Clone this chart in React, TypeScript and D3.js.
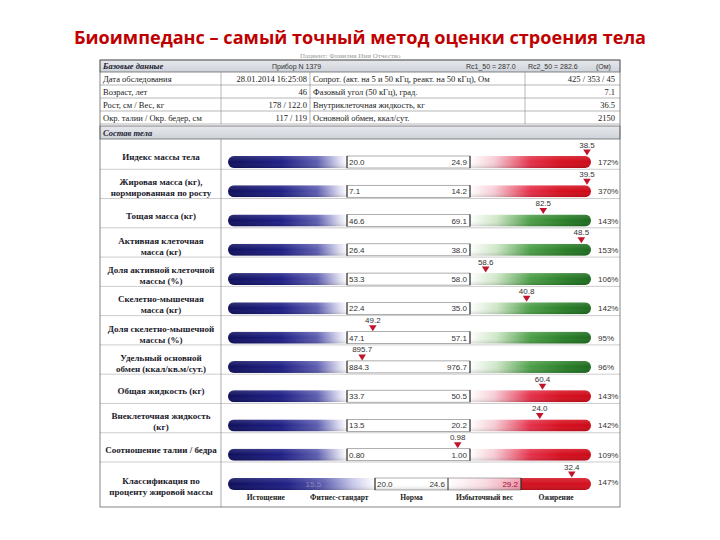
import * as d3 from 'd3';

const rowLabels: string[][] = [
  ['Индекс массы тела'],
  ['Жировая масса (кг),', 'нормированная по росту'],
  ['Тощая масса (кг)'],
  ['Активная клеточная', 'масса (кг)'],
  ['Доля активной клеточной', 'массы (%)'],
  ['Скелетно-мышечная', 'масса (кг)'],
  ['Доля скелетно-мышечной', 'массы (%)'],
  ['Удельный основной', 'обмен (ккал/кв.м/сут.)'],
  ['Общая жидкость (кг)'],
  ['Внеклеточная жидкость', '(кг)'],
  ['Соотношение талии / бедра'],
  ['Классификация по', 'проценту жировой массы'],
];
const normLow = [20.0, 7.1, 46.6, 26.4, 53.3, 22.4, 47.1, 884.3, 33.7, 13.5, 0.8];
const normHigh = [24.9, 14.2, 69.1, 38.0, 58.0, 35.0, 57.1, 976.7, 50.5, 20.2, 1.0];
const values = [38.5, 39.5, 82.5, 48.5, 58.6, 40.8, 49.2, 895.7, 60.4, 24.0, 0.98, 32.4];
const percents = [172, 370, 143, 153, 106, 142, 95, 96, 143, 142, 109, 147];
const excessKind = ['red', 'red', 'green', 'green', 'green', 'green', 'green', 'green', 'red', 'red', 'red', 'red'];

const fatBounds = [15.5, 20.0, 24.6, 29.2];
const fatClasses = ['Истощение', 'Фитнес-стандарт', 'Норма', 'Избыточный вес', 'Ожирение'];

const baseLabels = ['Дата обследования', 'Возраст, лет', 'Рост, см / Вес, кг', 'Окр. талии / Окр. бедер, см'];
const baseValues = ['28.01.2014 16:25:08', '46', '178 / 122.0', '117 / 119'];
const measLabels = [
  'Сопрот. (акт. на 5 и 50 кГц, реакт. на 50 кГц), Ом',
  'Фазовый угол (50 кГц), град.',
  'Внутриклеточная жидкость, кг',
  'Основной обмен, ккал/сут.',
];
const measValues = ['425 / 353 / 45', '7.1', '36.5', '2150'];

const serif = '"Liberation Serif", "DejaVu Serif", serif';
const sans = '"Liberation Sans", Arial, sans-serif';

const fmt = (v: number) => (v < 2 ? d3.format('.2f')(v) : d3.format('.1f')(v));

const L = 100;
const R = 620;
const colDiv = 221;
const barX0 = 228;
const barX1 = 591;
const barH = 12;

const rowY = d3.scaleLinear().domain([0, 11]).range([162, 484]);
const fatX = d3.scaleLinear().domain([20.0, 24.6]).range([375, 448]);

function Marker({x, label}: {x: number; label: string}) {
  return (
    <g>
      <text x={x} y={-14.5} textAnchor="middle" fontFamily={sans} fontSize={8} fill="#333">
        {label}
      </text>
      <path d={`M${x - 3.8},-12.5 L${x + 3.8},-12.5 L${x},-6.5 Z`} fill="#c0142c" />
    </g>
  );
}

function NormRow({i}: {i: number}) {
  const lo = normLow[i];
  const hi = normHigh[i];
  const w = hi - lo;
  const x = d3.scaleLinear().domain([lo - w, hi + w]).range([224, 593]).clamp(true);
  const xl = x(lo);
  const xh = x(hi);
  const mx = Math.min(x(values[i]), barX1 - 4);
  return (
    <g transform={`translate(0,${rowY(i)})`}>
      <g clipPath="url(#barClip)">
        <rect x={barX0} y={-barH / 2} width={xl - barX0} height={barH} fill="url(#gBlue)" />
        <rect x={xh} y={-barH / 2} width={barX1 - xh} height={barH} fill={`url(#g_${excessKind[i]})`} />
        <rect x={barX0} y={-barH / 2} width={barX1 - barX0} height={barH} fill="url(#gShade)" />
      </g>
      <rect x={xl} y={-barH / 2} width={xh - xl} height={barH} fill="#fff" stroke="#777" strokeWidth={0.6} />
      <line x1={xl} x2={xl} y1={-barH / 2} y2={barH / 2} stroke="#111" strokeWidth={0.9} />
      <line x1={xh} x2={xh} y1={-barH / 2} y2={barH / 2} stroke="#111" strokeWidth={0.9} />
      <text x={xl + 2} y={3} fontFamily={sans} fontSize={8} fill="#333">
        {fmt(lo)}
      </text>
      <text x={xh - 3} y={3} textAnchor="end" fontFamily={sans} fontSize={8} fill="#333">
        {fmt(hi)}
      </text>
      <Marker x={mx} label={fmt(values[i])} />
      <text x={598} y={3} fontFamily={sans} fontSize={8} fill="#333">
        {percents[i]}%
      </text>
    </g>
  );
}

function FatRow() {
  const i = 11;
  const b = fatBounds.map((v) => fatX(v));
  const edges = [barX0, ...b, barX1];
  return (
    <g transform={`translate(0,${rowY(i)})`}>
      <g clipPath="url(#barClip)">
        <rect x={barX0} y={-barH / 2} width={b[1] - barX0} height={barH} fill="url(#gBlueFat)" />
        <rect x={b[1]} y={-barH / 2} width={b[2] - b[1]} height={barH} fill="#fff" />
        <rect x={b[2]} y={-barH / 2} width={b[3] - b[2]} height={barH} fill="url(#gPink)" />
        <rect x={b[3]} y={-barH / 2} width={barX1 - b[3]} height={barH} fill="#d3101f" />
        <rect x={barX0} y={-barH / 2} width={barX1 - barX0} height={barH} fill="url(#gShade)" />
      </g>
      <rect x={b[1]} y={-barH / 2} width={b[3] - b[1]} height={barH} fill="none" stroke="#777" strokeWidth={0.6} />
      {[1, 2, 3].map((k) => (
        <line key={k} x1={b[k]} x2={b[k]} y1={-barH / 2} y2={barH / 2} stroke="#111" strokeWidth={0.9} />
      ))}
      <text x={b[0] + 2} y={3} fontFamily={sans} fontSize={8} fill="#8a86b8">
        {fmt(fatBounds[0])}
      </text>
      <text x={b[1] + 2} y={3} fontFamily={sans} fontSize={8} fill="#333">
        {fmt(fatBounds[1])}
      </text>
      <text x={b[2] - 3} y={3} textAnchor="end" fontFamily={sans} fontSize={8} fill="#333">
        {fmt(fatBounds[2])}
      </text>
      <text x={b[3] - 3} y={3} textAnchor="end" fontFamily={sans} fontSize={8} fill="#a0102a">
        {fmt(fatBounds[3])}
      </text>
      {fatClasses.map((c, k) => (
        <text
          key={c}
          x={(edges[k] + edges[k + 1]) / 2}
          y={16}
          textAnchor="middle"
          fontFamily={serif}
          fontWeight="bold"
          fontSize={7.5}
          fill="#222"
        >
          {c}
        </text>
      ))}
      <Marker x={fatX(values[i])} label={fmt(values[i])} />
      <text x={598} y={1} fontFamily={sans} fontSize={8} fill="#333">
        {percents[i]}%
      </text>
    </g>
  );
}

export default function App() {
  const headTop = 72;
  const headRow = 13;
  const bodyTop = 139;
  const rowTops = rowLabels.map((_, i) => rowY(i) - 22);

  return (
    <svg width={720} height={540} style={{position: 'absolute', left: 0, top: 0, background: '#fff'}}>
      <defs>
        <clipPath id="barClip">
          <rect x={barX0} y={-barH / 2} width={barX1 - barX0} height={barH} rx={6} />
        </clipPath>
        <linearGradient id="gBlue">
          <stop offset="0" stopColor="#0f0f5c" />
          <stop offset="0.45" stopColor="#1f1f86" />
          <stop offset="0.75" stopColor="#5d5db0" />
          <stop offset="0.93" stopColor="#d8d8ee" />
          <stop offset="1" stopColor="#ffffff" />
        </linearGradient>
        <linearGradient id="gBlueFat">
          <stop offset="0" stopColor="#0f0f5c" />
          <stop offset="0.4" stopColor="#1f1f86" />
          <stop offset="0.65" stopColor="#5d5db0" />
          <stop offset="0.85" stopColor="#c8c8ea" />
          <stop offset="1" stopColor="#ffffff" />
        </linearGradient>
        <linearGradient id="g_red">
          <stop offset="0" stopColor="#ffffff" />
          <stop offset="0.2" stopColor="#f6ccd5" />
          <stop offset="0.5" stopColor="#e4304a" />
          <stop offset="0.75" stopColor="#d6101f" />
          <stop offset="1" stopColor="#cc0a18" />
        </linearGradient>
        <linearGradient id="g_green">
          <stop offset="0" stopColor="#ffffff" />
          <stop offset="0.22" stopColor="#cde6c6" />
          <stop offset="0.5" stopColor="#4c9e48" />
          <stop offset="0.78" stopColor="#2a7f28" />
          <stop offset="1" stopColor="#1e6a1f" />
        </linearGradient>
        <linearGradient id="gPink">
          <stop offset="0" stopColor="#ffffff" />
          <stop offset="0.5" stopColor="#f8dbe2" />
          <stop offset="1" stopColor="#f095ab" />
        </linearGradient>
        <linearGradient id="gShade" x1="0" x2="0" y1="0" y2="1">
          <stop offset="0" stopColor="#ffffff" stopOpacity={0.15} />
          <stop offset="0.5" stopColor="#ffffff" stopOpacity={0} />
          <stop offset="1" stopColor="#000000" stopOpacity={0.15} />
        </linearGradient>
        <linearGradient id="gHead" x1="0" x2="0" y1="0" y2="1">
          <stop offset="0" stopColor="#e6e8ec" />
          <stop offset="1" stopColor="#cfd3da" />
        </linearGradient>
      </defs>

      <text
        x={360}
        y={44}
        textAnchor="middle"
        fontFamily='"Open Sans", "Noto Sans", sans-serif'
        fontWeight="bold"
        fontSize={17.5}
        textLength={572}
        lengthAdjust="spacingAndGlyphs"
        fill="#c00000"
      >
        Биоимпеданс – самый точный метод оценки строения тела
      </text>

      <text x={300} y={58} fontFamily={serif} fontSize={7} fill="#999">
        Пациент: Фамилия Имя Отчество
      </text>

      {/* base data header */}
      <rect x={L} y={60} width={R - L} height={12} fill="url(#gHead)" stroke="#555" strokeWidth={0.7} />
      <text x={103} y={69} fontFamily={serif} fontStyle="italic" fontWeight="bold" fontSize={8.5} fill="#223">
        Базовые данные
      </text>
      <text x={272} y={69} fontFamily={sans} fontSize={7} fill="#333">
        Прибор N 1379
      </text>
      <text x={466} y={69} fontFamily={sans} fontSize={7} fill="#333">
        Rc1_50 = 287.0
      </text>
      <text x={528} y={69} fontFamily={sans} fontSize={7} fill="#333">
        Rc2_50 = 282.6
      </text>
      <text x={596} y={69} fontFamily={sans} fontSize={7} fill="#333">
        (Ом)
      </text>

      {baseLabels.map((lab, k) => {
        const y = headTop + k * headRow;
        return (
          <g key={lab}>
            <line x1={L} x2={R} y1={y + headRow} y2={y + headRow} stroke="#888" strokeWidth={0.6} />
            <text x={103} y={y + 9.5} fontFamily={serif} fontSize={8.5} fill="#222">
              {lab}
            </text>
            <text x={307} y={y + 9.5} textAnchor="end" fontFamily={serif} fontSize={8.5} fill="#222">
              {baseValues[k]}
            </text>
            <text x={313} y={y + 9.5} fontFamily={serif} fontSize={8.5} fill="#222">
              {measLabels[k]}
            </text>
            <text x={615} y={y + 9.5} textAnchor="end" fontFamily={serif} fontSize={8.5} fill="#222">
              {measValues[k]}
            </text>
          </g>
        );
      })}
      {[colDiv, 310, 525].map((x) => (
        <line key={x} x1={x} x2={x} y1={headTop} y2={headTop + 4 * headRow} stroke="#888" strokeWidth={0.6} />
      ))}

      {/* body composition header */}
      <rect x={L} y={126} width={R - L} height={13} fill="url(#gHead)" stroke="#555" strokeWidth={0.7} />
      <text x={103} y={135.5} fontFamily={serif} fontStyle="italic" fontWeight="bold" fontSize={8.5} fill="#223">
        Состав тела
      </text>

      {rowTops.slice(1).map((y, i) => (
        <line key={i} x1={L} x2={R} y1={y} y2={y} stroke="#aaa" strokeWidth={0.6} />
      ))}
      <line x1={colDiv} x2={colDiv} y1={bodyTop} y2={507} stroke="#888" strokeWidth={0.7} />
      <rect x={L} y={60} width={R - L} height={447} fill="none" stroke="#666" strokeWidth={0.8} />

      {rowLabels.map((lines, i) => {
        const c = rowY(i);
        const y0 = lines.length === 1 ? c - 2 : c - 6;
        return (
          <text key={i} textAnchor="middle" fontFamily={serif} fontWeight="bold" fontSize={9} fill="#1a1a2a">
            {lines.map((t, k) => (
              <tspan key={k} x={161} y={(i === 11 ? y0 + 6 : y0) + k * 11}>
                {t}
              </tspan>
            ))}
          </text>
        );
      })}

      {normLow.map((_, i) => (
        <NormRow key={i} i={i} />
      ))}
      <FatRow />
    </svg>
  );
}
